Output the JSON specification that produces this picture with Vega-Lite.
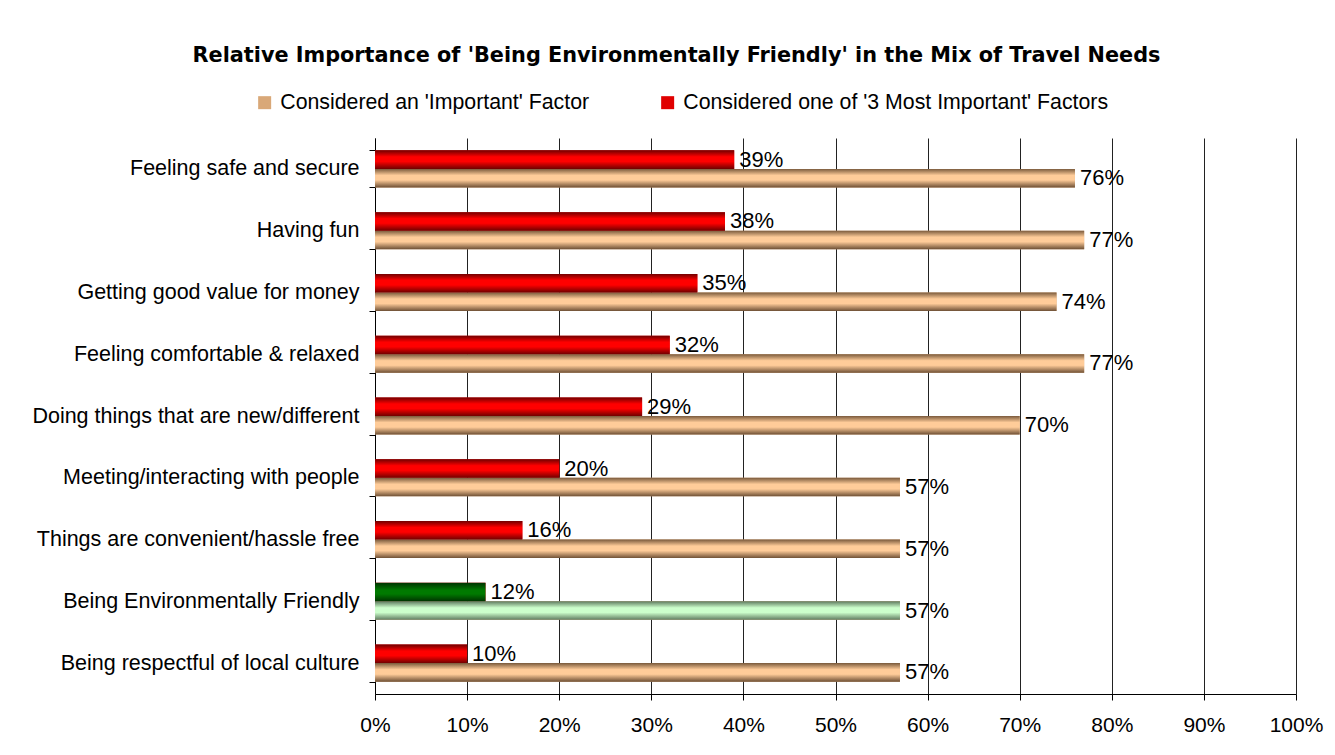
{
  "$schema": "https://vega.github.io/schema/vega-lite/v6.json",
  "width": 921,
  "height": 556,
  "autosize": {"type": "none"},
  "padding": {"left": 375, "top": 138, "right": 39, "bottom": 61},
  "background": "white",
  "title": {
    "text": "Relative Importance of 'Being Environmentally Friendly' in the Mix of Travel Needs",
    "font": "DejaVu Sans",
    "fontSize": 20.8,
    "fontWeight": "bold",
    "color": "black",
    "anchor": "middle",
    "frame": "group",
    "dx": -159,
    "offset": 25
  },
  "config": {
    "view": {"stroke": null},
    "font": "Liberation Sans",
    "axis": {"labelFont": "Liberation Sans", "labelColor": "black"}
  },
  "data": {
    "values": [
      {"factor": "Feeling safe and secure", "series": "Considered one of '3 Most Important' Factors", "value": 0.39},
      {"factor": "Feeling safe and secure", "series": "Considered an 'Important' Factor", "value": 0.76},
      {"factor": "Having fun", "series": "Considered one of '3 Most Important' Factors", "value": 0.38},
      {"factor": "Having fun", "series": "Considered an 'Important' Factor", "value": 0.77},
      {"factor": "Getting good value for money", "series": "Considered one of '3 Most Important' Factors", "value": 0.35},
      {"factor": "Getting good value for money", "series": "Considered an 'Important' Factor", "value": 0.74},
      {"factor": "Feeling comfortable & relaxed", "series": "Considered one of '3 Most Important' Factors", "value": 0.32},
      {"factor": "Feeling comfortable & relaxed", "series": "Considered an 'Important' Factor", "value": 0.77},
      {"factor": "Doing things that are new/different", "series": "Considered one of '3 Most Important' Factors", "value": 0.29},
      {"factor": "Doing things that are new/different", "series": "Considered an 'Important' Factor", "value": 0.70},
      {"factor": "Meeting/interacting with people", "series": "Considered one of '3 Most Important' Factors", "value": 0.20},
      {"factor": "Meeting/interacting with people", "series": "Considered an 'Important' Factor", "value": 0.57},
      {"factor": "Things are convenient/hassle free", "series": "Considered one of '3 Most Important' Factors", "value": 0.16},
      {"factor": "Things are convenient/hassle free", "series": "Considered an 'Important' Factor", "value": 0.57},
      {"factor": "Being Environmentally Friendly", "series": "Considered one of '3 Most Important' Factors", "value": 0.12},
      {"factor": "Being Environmentally Friendly", "series": "Considered an 'Important' Factor", "value": 0.57},
      {"factor": "Being respectful of local culture", "series": "Considered one of '3 Most Important' Factors", "value": 0.10},
      {"factor": "Being respectful of local culture", "series": "Considered an 'Important' Factor", "value": 0.57}
    ]
  },
  "encoding": {
    "y": {
      "field": "factor",
      "type": "nominal",
      "sort": null,
      "scale": {"paddingInner": 0.4, "paddingOuter": 0.2},
      "axis": {
        "title": null,
        "tickBand": "extent",
        "labelFontSize": 21.5,
        "labelPadding": 10,
        "tickSize": 6,
        "tickColor": "black",
        "domainColor": "black",
        "grid": false,
        "labelLimit": 400
      }
    },
    "yOffset": {
      "field": "series",
      "type": "nominal",
      "scale": {"domain": ["Considered one of '3 Most Important' Factors", "Considered an 'Important' Factor"]}
    },
    "x": {
      "field": "value",
      "type": "quantitative",
      "scale": {"domain": [0, 1], "nice": false},
      "axis": {
        "title": null,
        "format": ".0%",
        "values": [0, 0.1, 0.2, 0.3, 0.4, 0.5, 0.6, 0.7, 0.8, 0.9, 1],
        "labelFontSize": 21,
        "labelPadding": 14,
        "labelFlush": false,
        "tickSize": 6,
        "tickColor": "black",
        "domainColor": "black",
        "grid": true,
        "gridColor": "#222",
        "gridOpacity": 1
      }
    }
  },
  "layer": [
    {
      "mark": {"type": "bar"},
      "encoding": {
        "color": {
          "field": "series",
          "type": "nominal",
          "scale": {
            "domain": ["Considered an 'Important' Factor", "Considered one of '3 Most Important' Factors"],
            "range": ["#D9A878", "#E00000"]
          },
          "legend": {
            "title": null,
            "orient": "none",
            "direction": "horizontal",
            "legendX": -121,
            "legendY": -46,
            "symbolType": "square",
            "symbolSize": 169,
            "symbolStrokeWidth": 0,
            "labelFontSize": 21.3,
            "labelFont": "Liberation Sans",
            "labelColor": "black",
            "labelLimit": 600,
            "labelOffset": 5,
            "columnPadding": 67
          }
        }
      }
    },
    {
      "transform": [{"filter": "datum.series === \"Considered an 'Important' Factor\" && datum.factor !== 'Being Environmentally Friendly'"}],
      "mark": {
        "type": "bar",
        "fill": {"gradient": "linear", "x1": 0, "y1": 0, "x2": 0, "y2": 1,
          "stops": [{"offset": 0, "color": "#7a5a3c"}, {"offset": 0.35, "color": "#FFCC99"}, {"offset": 0.6, "color": "#FFCC99"}, {"offset": 1, "color": "#6e5035"}]}
      }
    },
    {
      "transform": [{"filter": "datum.series === \"Considered an 'Important' Factor\" && datum.factor === 'Being Environmentally Friendly'"}],
      "mark": {
        "type": "bar",
        "fill": {"gradient": "linear", "x1": 0, "y1": 0, "x2": 0, "y2": 1,
          "stops": [{"offset": 0, "color": "#5f7a5f"}, {"offset": 0.35, "color": "#CCFFCC"}, {"offset": 0.6, "color": "#CCFFCC"}, {"offset": 1, "color": "#5f7a5f"}]}
      }
    },
    {
      "transform": [{"filter": "datum.series !== \"Considered an 'Important' Factor\" && datum.factor !== 'Being Environmentally Friendly'"}],
      "mark": {
        "type": "bar",
        "fill": {"gradient": "linear", "x1": 0, "y1": 0, "x2": 0, "y2": 1,
          "stops": [{"offset": 0, "color": "#700000"}, {"offset": 0.35, "color": "#FF0000"}, {"offset": 0.6, "color": "#FF0000"}, {"offset": 1, "color": "#700000"}]}
      }
    },
    {
      "transform": [{"filter": "datum.series !== \"Considered an 'Important' Factor\" && datum.factor === 'Being Environmentally Friendly'"}],
      "mark": {
        "type": "bar",
        "fill": {"gradient": "linear", "x1": 0, "y1": 0, "x2": 0, "y2": 1,
          "stops": [{"offset": 0, "color": "#003300"}, {"offset": 0.4, "color": "#007a00"}, {"offset": 0.6, "color": "#007a00"}, {"offset": 1, "color": "#003300"}]}
      }
    },
    {
      "mark": {"type": "text", "align": "left", "baseline": "middle", "dx": 5, "fontSize": 22, "font": "Liberation Sans", "color": "black"},
      "encoding": {
        "text": {"field": "value", "type": "quantitative", "format": ".0%"}
      }
    }
  ]
}
